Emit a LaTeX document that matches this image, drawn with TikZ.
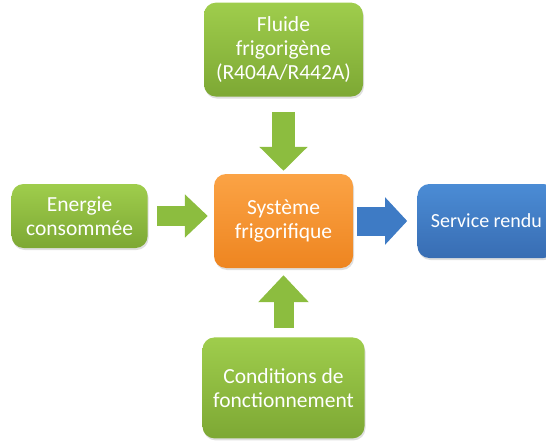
\documentclass[tikz,border=0pt]{standalone}
\usepackage{fontspec}
\setmainfont{Carlito}
\usepackage{xcolor}
\usetikzlibrary{positioning,arrows.meta,shadows}

\definecolor{greentop}{HTML}{9FCD4C}
\definecolor{greenbot}{HTML}{7DA834}
\definecolor{orangetop}{HTML}{FBA345}
\definecolor{orangebot}{HTML}{EE8520}
\definecolor{bluetop}{HTML}{4B8CD5}
\definecolor{bluebot}{HTML}{386DB3}
\definecolor{greenarrow}{HTML}{8CBD3F}
\definecolor{bluearrow}{HTML}{3E7BC5}

\begin{document}
\begin{tikzpicture}[
  x=1pt, y=-1pt,
  font=\fontsize{21.5}{24}\selectfont,
  boxnode/.style={rectangle, rounded corners=12pt, align=center, text=white,
    inner sep=2pt, drop shadow={opacity=0.25, shadow xshift=1pt, shadow yshift=-2pt}},
  greenbox/.style={boxnode, top color=greentop, bottom color=greenbot},
  orangebox/.style={boxnode, top color=orangetop, bottom color=orangebot},
  bluebox/.style={boxnode, top color=bluetop, bottom color=bluebot}
]
\useasboundingbox (0,0) rectangle (546,441);
\clip (0,0) rectangle (546,441);

%Nodes
\node[orangebox, minimum width=139pt, minimum height=94pt] (sys) at (283.5,221) {Système\\frigorifique};
\node[greenbox, minimum width=159pt, minimum height=94pt, above=77pt of sys] (fluide) {Fluide\\frigorigène\\(R404A/R442A)};
\node[greenbox, minimum width=136pt, minimum height=64pt, left=66pt of sys, yshift=5pt] (energie) {Energie\\consommée};
\node[greenbox, minimum width=162pt, minimum height=101pt, below=69pt of sys] (cond) {Conditions de\\fonctionnement};
\node[bluebox, minimum width=138pt, minimum height=74pt, right=64pt of sys,
  font=\fontsize{20}{24}\selectfont] (service) {Service rendu};

%Arrows
\draw[greenarrow, line width=23pt, -{Triangle[width=47pt, length=24pt]},
  shorten <=15pt, shorten >=3pt] (fluide.south) -- (sys.north);
\draw[greenarrow, line width=20pt, -{Triangle[width=42pt, length=23pt]},
  shorten <=9pt, shorten >=6pt] (energie.east) -- (energie.east -| sys.west);
\draw[greenarrow, line width=20pt, -{Triangle[width=49pt, length=27pt]},
  shorten <=9pt, shorten >=7pt] (cond.north) -- (sys.south);
\draw[bluearrow, line width=29pt, -{Triangle[width=46pt, length=22pt]},
  shorten <=4pt, shorten >=10pt] (sys.east) -- (service.west);
\end{tikzpicture}
\end{document}
